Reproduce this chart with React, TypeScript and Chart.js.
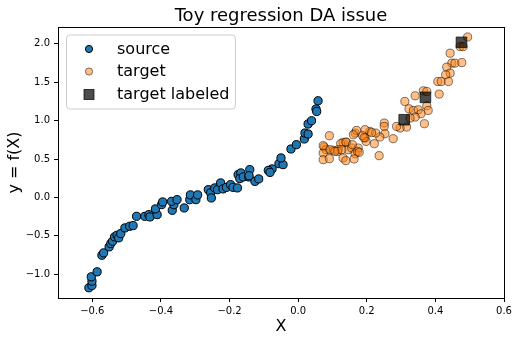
import React, { useEffect, useRef } from 'react';
import { Chart, registerables } from 'chart.js';
Chart.register(...registerables);

const sourceX = [-0.610,-0.601,-0.601,-0.603,-0.586,-0.572,-0.567,-0.551,-0.546,-0.541,-0.535,-0.528,-0.523,-0.517,-0.505,-0.491,-0.481,-0.471,-0.447,-0.435,-0.432,-0.411,-0.416,-0.398,-0.395,-0.367,-0.362,-0.369,-0.353,-0.332,-0.316,-0.314,-0.298,-0.293,-0.262,-0.255,-0.253,-0.243,-0.235,-0.226,-0.219,-0.209,-0.197,-0.190,-0.177,-0.175,-0.167,-0.170,-0.160,-0.141,-0.144,-0.126,-0.115,-0.143,-0.076,-0.087,-0.082,-0.056,-0.044,-0.050,-0.021,-0.005,0.018,0.020,0.029,0.029,0.039,0.052,0.054,0.058];
const sourceY = [-1.177,-1.147,-1.091,-1.034,-0.969,-0.753,-0.722,-0.644,-0.601,-0.571,-0.514,-0.493,-0.527,-0.471,-0.397,-0.376,-0.367,-0.246,-0.246,-0.224,-0.254,-0.224,-0.150,-0.094,-0.059,-0.168,-0.094,-0.051,-0.029,-0.137,-0.029,0.033,-0.029,0.033,0.101,0.059,-0.007,0.124,0.101,0.189,0.111,0.131,0.166,0.131,0.124,0.297,0.319,0.245,0.267,0.362,0.267,0.209,0.241,0.283,0.371,0.352,0.326,0.440,0.427,0.514,0.631,0.687,0.761,0.839,0.826,0.956,0.999,1.151,1.120,1.259];

const targetX = [0.494,0.472,0.481,0.443,0.448,0.457,0.477,0.433,0.443,0.430,0.407,0.417,0.438,0.411,0.341,0.365,0.311,0.323,0.336,0.350,0.375,0.379,0.358,0.341,0.326,0.368,0.316,0.297,0.287,0.251,0.251,0.253,0.238,0.277,0.209,0.195,0.226,0.166,0.170,0.195,0.222,0.198,0.188,0.091,0.131,0.141,0.124,0.076,0.081,0.102,0.117,0.146,0.156,0.175,0.073,0.166,0.236,0.131,0.214,0.192,0.161,0.139,0.158,0.073,0.093,0.115,0.127,0.173,0.107,0.073,0.091,0.139,0.163,0.178,0.375];
const targetY = [2.090,1.965,1.965,1.879,1.749,1.749,1.757,1.697,1.619,1.597,1.510,1.510,1.510,1.346,1.324,1.389,1.250,1.155,1.133,1.142,1.194,1.133,1.090,1.047,1.034,0.960,0.917,0.904,0.925,0.969,0.925,0.830,0.787,0.765,0.860,0.882,0.839,0.839,0.873,0.774,0.700,0.730,0.804,0.804,0.717,0.717,0.700,0.657,0.622,0.613,0.622,0.622,0.644,0.644,0.579,0.570,0.544,0.514,0.844,0.779,0.817,0.722,0.687,0.674,0.622,0.600,0.622,0.600,0.600,0.492,0.505,0.479,0.501,0.587,1.380];

const labeledX = [0.309, 0.371, 0.476];
const labeledY = [1.012, 1.304, 2.020];

const xTicks = [-0.6, -0.4, -0.2, 0.0, 0.2, 0.4, 0.6];
const yTicks = [-1.0, -0.5, 0.0, 0.5, 1.0, 1.5, 2.0];

const titleText = 'Toy regression DA issue';
const xLabel = 'X';
const yLabel = 'y = f(X)';
const legendLabels = ['source', 'target', 'target labeled'];

const FONT = "'DejaVu Sans', sans-serif";
const BLUE = '#1f77b4';
const ORANGE = 'rgba(255,127,14,0.5)';
const ORANGE_EDGE = 'rgba(0,0,0,0.5)';
const LAB = 'rgba(0,0,0,0.7)';

const fmt = (v: number) => v.toFixed(1).replace('-', '\u2212');

const pts = (xs: number[], ys: number[]) => xs.map((x, i) => ({ x, y: ys[i] }));

const decor = {
  id: 'decor',
  afterDraw(chart: any) {
    const { ctx, chartArea: a } = chart;
    ctx.save();
    ctx.strokeStyle = '#000';
    ctx.lineWidth = 1;
    const l = Math.round(a.left) + 0.5, t = Math.round(a.top) + 0.5;
    const r = Math.round(a.right) + 0.5, b = Math.round(a.bottom) + 0.5;
    ctx.strokeRect(l, t, r - l, b - t);
    ctx.fillStyle = '#000';
    ctx.font = `18px ${FONT}`;
    ctx.textAlign = 'center';
    ctx.textBaseline = 'alphabetic';
    ctx.fillText(titleText, (a.left + a.right) / 2, 20.5);
    const bx = a.left + 8.5, by = a.top + 8, bw = 169, bh = 74, rad = 4;
    ctx.beginPath();
    ctx.moveTo(bx + rad, by);
    ctx.lineTo(bx + bw - rad, by);
    ctx.quadraticCurveTo(bx + bw, by, bx + bw, by + rad);
    ctx.lineTo(bx + bw, by + bh - rad);
    ctx.quadraticCurveTo(bx + bw, by + bh, bx + bw - rad, by + bh);
    ctx.lineTo(bx + rad, by + bh);
    ctx.quadraticCurveTo(bx, by + bh, bx, by + bh - rad);
    ctx.lineTo(bx, by + rad);
    ctx.quadraticCurveTo(bx, by, bx + rad, by);
    ctx.closePath();
    ctx.fillStyle = 'rgba(255,255,255,0.8)';
    ctx.fill();
    ctx.strokeStyle = '#cccccc';
    ctx.stroke();
    const mx = a.left + 31;
    const tx = a.left + 59;
    const rows = [a.top + 22, a.top + 44.5, a.top + 67.5];
    ctx.beginPath();
    ctx.arc(mx, rows[0], 3.6, 0, Math.PI * 2);
    ctx.fillStyle = BLUE; ctx.fill();
    ctx.strokeStyle = '#000'; ctx.lineWidth = 1; ctx.stroke();
    ctx.beginPath();
    ctx.arc(mx, rows[1], 3.6, 0, Math.PI * 2);
    ctx.fillStyle = ORANGE; ctx.fill();
    ctx.strokeStyle = ORANGE_EDGE; ctx.stroke();
    ctx.fillStyle = LAB;
    ctx.fillRect(mx - 5, rows[2] - 5, 10, 10);
    ctx.strokeStyle = LAB;
    ctx.strokeRect(mx - 5, rows[2] - 5, 10, 10);
    ctx.fillStyle = '#000';
    ctx.font = `16px ${FONT}`;
    ctx.textAlign = 'left';
    ctx.textBaseline = 'middle';
    legendLabels.forEach((s, i) => ctx.fillText(s, tx, rows[i] + 0.5));
    ctx.restore();
  },
};

export default function App() {
  const ref = useRef<HTMLCanvasElement | null>(null);
  useEffect(() => {
    if (!ref.current) return;
    const chart = new Chart(ref.current, {
      type: 'scatter',
      data: {
        datasets: [
          {
            label: legendLabels[2],
            data: pts(labeledX, labeledY),
            pointStyle: 'rect',
            pointRadius: 7.5,
            pointBackgroundColor: LAB,
            pointBorderColor: LAB,
            pointBorderWidth: 1,
            order: 0,
          },
          {
            label: legendLabels[1],
            data: pts(targetX, targetY),
            pointRadius: 4.1,
            pointBackgroundColor: ORANGE,
            pointBorderColor: ORANGE_EDGE,
            pointBorderWidth: 1,
            order: 1,
          },
          {
            label: legendLabels[0],
            data: pts(sourceX, sourceY),
            pointRadius: 4.1,
            pointBackgroundColor: BLUE,
            pointBorderColor: '#000',
            pointBorderWidth: 1,
            order: 2,
          },
        ],
      },
      options: {
        responsive: false,
        animation: false,
        events: [],
        layout: { padding: { top: 27, right: 15, bottom: 6, left: 0 } },
        plugins: { legend: { display: false }, tooltip: { enabled: false }, title: { display: false } },
        scales: {
          x: {
            type: 'linear',
            min: -0.7,
            max: 0.6,
            afterBuildTicks: (s: any) => { s.ticks = xTicks.map((v) => ({ value: v })); },
            afterFit: (s: any) => { s.height = 38; },
            ticks: { callback: (v: any) => fmt(Number(v)), font: { family: FONT, size: 10 }, color: '#000', padding: 3, maxRotation: 0, autoSkip: false },
            grid: { drawOnChartArea: false, tickLength: 4, color: '#000', tickColor: '#000' },
            border: { display: false },
            title: { display: true, text: xLabel, font: { family: FONT, size: 16 }, color: '#000', padding: { top: 0, bottom: 0 } },
          },
          y: {
            type: 'linear',
            min: -1.31,
            max: 2.22,
            afterBuildTicks: (s: any) => { s.ticks = yTicks.map((v) => ({ value: v })); },
            afterFit: (s: any) => { s.width = 58; },
            ticks: { callback: (v: any) => fmt(Number(v)), font: { family: FONT, size: 10 }, color: '#000', padding: 4, autoSkip: false },
            grid: { drawOnChartArea: false, tickLength: 4, color: '#000', tickColor: '#000' },
            border: { display: false },
            title: { display: true, text: yLabel, font: { family: FONT, size: 16 }, color: '#000', padding: { top: 5.5, bottom: 0 } },
          },
        },
      },
      plugins: [decor],
    });
    return () => chart.destroy();
  }, []);
  return (
    <div style={{ position: 'fixed', left: 0, top: 0, width: 519, height: 342, background: '#fff' }}>
      <canvas ref={ref} width={519} height={342} />
    </div>
  );
}
